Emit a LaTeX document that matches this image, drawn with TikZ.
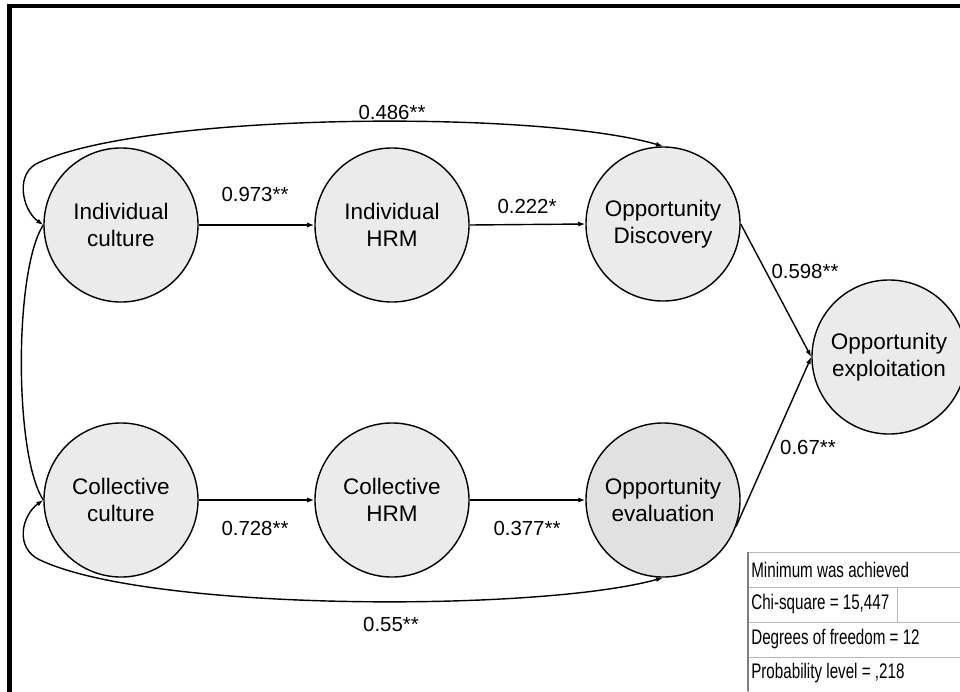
\documentclass[tikz,border=0pt]{standalone}
\usepackage{fontspec}
\setmainfont{Liberation Sans}
\newfontfamily\narrowfont[FakeStretch=0.72]{Liberation Sans}
\usetikzlibrary{arrows.meta}
\definecolor{latentfill}{HTML}{EBEBEB}
\definecolor{latentdark}{HTML}{E1E1E1}
\definecolor{gridgray}{HTML}{B8B8B8}
\tikzset{
  latent/.style={circle, draw=black, line width=1pt, fill=latentfill,
    minimum size=3.85cm, inner sep=0pt, align=center,
    font=\fontsize{16}{19}\selectfont},
  path/.style={line width=1pt, -{Latex[length=5pt,width=3.6pt]}},
  twoway/.style={line width=1pt, {Latex[length=5pt,width=3.6pt]}-{Latex[length=5pt,width=3.6pt]}},
  coef/.style={font=\fontsize{14.5}{17}\selectfont, inner sep=1pt},
  fitrow/.style={draw=gridgray, line width=0.6pt, fill=white},
  fittext/.style={anchor=west, inner sep=0pt, font=\narrowfont\fontsize{15}{17}\selectfont}
}
\begin{document}
\begin{tikzpicture}[x=0.025cm, y=-0.025cm]
\useasboundingbox (0,0) rectangle (960,691);
\clip (0,0) rectangle (960,691);
\fill[white] (0,0) rectangle (960,691);

% outer frame (left and top edges)
\draw[line width=0.1125cm] (9.5,700) -- (9.5,5.8) -- (970,5.8);

% latent variables
\node[latent] (ic) at (121,225) {Individual\\culture};
\node[latent] (ih) at (392,225) {Individual\\HRM};
\node[latent] (od) at (663,224) {Opportunity\\Discovery};
\node[latent] (ox) at (889,357) {Opportunity\\exploitation};
\node[latent] (cc) at (121,500) {Collective\\culture};
\node[latent] (ch) at (392,500) {Collective\\HRM};
\node[latent, fill=latentdark] (oe) at (663,500) {Opportunity\\evaluation};

% direct paths
\draw[path] (ic.east) -- (ih.west);
\draw[path] (ih.east) -- (od.west);
\draw[path] (cc.east) -- (ch.west);
\draw[path] (ch.east) -- (oe.west);
\draw[path] (od.east) -- (ox.west);
\draw[path] (oe.-20) -- (ox.west);

% curved paths around the rows
\draw[twoway] (ic.west) .. controls (22,210) and (14,172) .. (40,162)
  .. controls (150,112) and (540,110) .. (od.north);
\draw[twoway] (cc.west) .. controls (22,515) and (14,548) .. (40,560)
  .. controls (150,612) and (540,612) .. (oe.south);
\draw[line width=1pt] (ic.west) .. controls (14,270) and (14,455) .. (cc.west);

% coefficients
\node[coef] (c1) at (255,194) {0.973**};
\node[coef] (c2) at (527,206) {0.222*};
\node[coef] (c3) at (255,528) {0.728**};
\node[coef] (c4) at (527,528) {0.377**};
\node[coef] (c5) at (805,271) {0.598**};
\node[coef] (c6) at (808,447) {0.67**};
\node[coef] (c7) at (392,112) {0.486**};
\node[coef] (c8) at (391,624) {0.55**};

% model fit summary
\draw[fitrow] (748,552) rectangle (975,587);
\draw[fitrow] (748,587) rectangle (975,622);
\draw[fitrow] (897,587) -- (897,622);
\draw[fitrow] (748,622) rectangle (975,657);
\draw[fitrow] (748,657) rectangle (975,695);
\draw[draw=gray, line width=0.8pt] (748,552) -- (748,691);
\node[fittext] (f1) at (751,570) {Minimum was achieved};
\node[fittext] (f2) at (751,604) {Chi-square = 15,447};
\node[fittext] (f3) at (751,639) {Degrees of freedom = 12};
\node[fittext] (f4) at (751,673) {Probability level = ,218};
\end{tikzpicture}
\end{document}
